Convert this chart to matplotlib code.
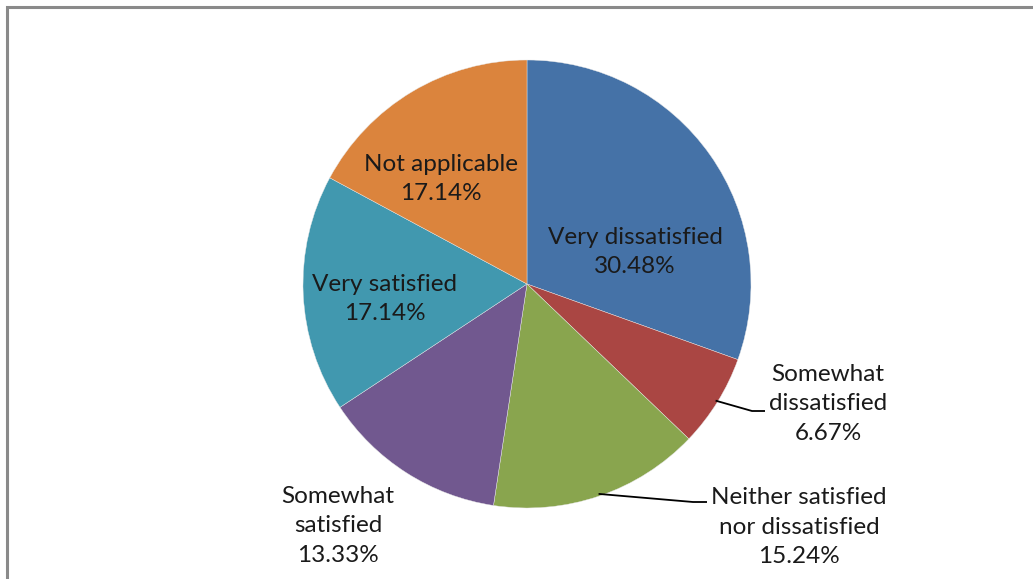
import matplotlib.pyplot as plt
import numpy as np
from matplotlib.patches import Rectangle

# data, clockwise from 12 o'clock
categories = ["Very dissatisfied", "Somewhat dissatisfied", "Neither satisfied\nnor dissatisfied",
              "Somewhat satisfied", "Very satisfied", "Not applicable"]
label_text = ["Very dissatisfied", "Somewhat\ndissatisfied", "Neither satisfied\nnor dissatisfied",
              "Somewhat\nsatisfied", "Very satisfied", "Not applicable"]
shares = [30.48, 6.67, 15.24, 13.33, 17.14, 17.14]
colors = ["#4572A7", "#AA4643", "#89A54E", "#71588F", "#4198AF", "#DB843D"]

W, H = 1033, 579
cx, cy, r = 527, H - 284, 224

# label centres in pixel space (y from top), and leader elbow (None = inside slice)
label_pos = [(635, 252), (828, 404), (799, 527), (338, 526), (385, 299), (441, 179)]
elbows = [None, [(752, 411), (765, 411)], [(693, 502), (707, 502)], None, None, None]

plt.rcParams["font.family"] = ["Lato", "DejaVu Sans"]

fig = plt.figure(figsize=(W / 100, H / 100), dpi=100)
ax = fig.add_axes([0, 0, 1, 1])

wedges, _ = ax.pie(shares, colors=colors, startangle=90, counterclock=False,
                   center=(cx, cy), radius=r, frame=True,
                   wedgeprops=dict(edgecolor="#e8e8e8", linewidth=0.3))
ax.set_xlim(0, W)
ax.set_ylim(0, H)
ax.set_aspect("equal")
ax.axis("off")

for w, txt, val, pos, elb in zip(wedges, label_text, shares, label_pos, elbows):
    ax.text(pos[0], H - pos[1], f"{txt}\n{val:.2f}%", ha="center", va="center",
            fontsize=17.5, color="#1a1a1a", linespacing=1.52)
    if elb is not None:
        mid = np.deg2rad((w.theta1 + w.theta2) / 2)
        xs = [cx + r * 0.99 * np.cos(mid)] + [p[0] for p in elb]
        ys = [cy + r * 0.99 * np.sin(mid)] + [H - p[1] for p in elb]
        ax.plot(xs, ys, color="black", linewidth=1.3, solid_capstyle="butt")

# chart-area border (cropped on the right and bottom)
fig.patches.append(Rectangle((6.5 / W, -0.1), 1.2, (H - 7) / H + 0.1, transform=fig.transFigure,
                             fill=False, edgecolor="#8a8a8a", linewidth=2.2))

fig.savefig("out.png", dpi=100)
